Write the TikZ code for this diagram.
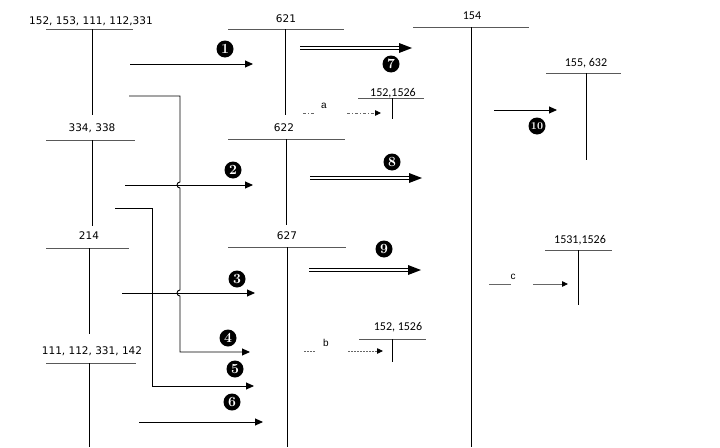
\documentclass[tikz,border=0pt]{standalone}
\usepackage{fontspec}
\usetikzlibrary{arrows.meta}
\newfontfamily\vfont{DejaVu Sans}
\newfontfamily\cfont{Carlito}
\newfontfamily\afont{Liberation Sans}
\tikzset{
  bar/.style={draw=black!65, line width=1pt},
  stem/.style={draw=black, line width=0.9pt},
  conn/.style={draw=black, line width=0.9pt},
  arr/.style={conn, -{Triangle[length=8pt,width=7pt]}},
  smallarr/.style={draw=black!60, line width=0.8pt, -{Triangle[length=6pt,width=5.5pt,color=black]}},
  dbl/.style={draw=black, double=white, double distance=2.4pt, line width=0.8pt, shorten >=10pt},
  vlbl/.style={inner sep=0pt, font=\vfont\fontsize{10.5}{12}\selectfont},
  clbl/.style={inner sep=0pt, font=\cfont\fontsize{12}{14}\selectfont},
  albl/.style={inner sep=0pt, font=\afont\fontsize{10}{11}\selectfont},
  num/.style={circle, fill=black, text=white, inner sep=0pt, minimum size=17pt,
              font=\bfseries\fontsize{14}{14}\selectfont},
  numten/.style={num, font=\bfseries\fontsize{10.5}{11}\selectfont},
}
\begin{document}
\begin{tikzpicture}[x=1pt,y=-1pt]
\useasboundingbox (0,0) rectangle (720,447);

% ---- labels of the T accounts ----
\node[vlbl] (t1) at (91,21) {152, 153, 111, 112,331};
\node[vlbl] (t2) at (92,128) {334, 338};
\node[vlbl] (t3) at (89,236) {214};
\node[vlbl] (t4) at (92,351) {111, 112, 331, 142};
\node[vlbl] (m1) at (286,19) {621};
\node[vlbl] (m2) at (284,128) {622};
\node[vlbl] (m3) at (287,236) {627};
\node[clbl] (r0) at (472,16) {154};
\node[clbl] (r1) at (586,63) {155, 632};
\node[clbl] (s1) at (393,93) {152,1526};
\node[clbl] (s2) at (398,327) {152, 1526};
\node[clbl] (r2) at (580,240) {1531,1526};

% ---- T bars and stems ----
\draw[bar] (46,29) -- (133,29);   \draw[stem] (92,29) -- (92,115);
\draw[bar] (46,140) -- (135,140); \draw[stem] (92,140) -- (92,226);
\draw[bar] (46,248) -- (129,248); \draw[stem] (89,248) -- (89,334);
\draw[bar] (46,363) -- (136,363); \draw[stem] (89,363) -- (89,447);
\draw[bar] (228,29) -- (344,29);  \draw[stem] (285,29) -- (285,115);
\draw[bar] (228,139) -- (345,139);\draw[stem] (286,139) -- (286,225);
\draw[bar] (228,247) -- (346,247);\draw[stem] (287,247) -- (287,447);
\draw[bar] (413,27) -- (529,27);  \draw[stem] (471,27) -- (471,447);
\draw[bar] (546,73) -- (621,73);  \draw[stem] (586,73) -- (586,160);
\draw[bar] (358,98) -- (424,98);  \draw[stem] (392,98) -- (392,119);
\draw[bar] (359,339) -- (426,339);\draw[stem] (392,339) -- (392,362);
\draw[bar] (545,250) -- (612,250);\draw[stem] (578,250) -- (578,305);

% ---- connector end points ----
\coordinate (a1s) at (130,64);  \coordinate (a1e) at (253,64);
\coordinate (a2s) at (125,185); \coordinate (a2e) at (253,185);
\coordinate (a3s) at (122,293); \coordinate (a3e) at (255,293);
\coordinate (a4s) at (129,96);  \coordinate (a4e) at (250,352);
\coordinate (a5s) at (115,208); \coordinate (a5e) at (254,386);
\coordinate (a6s) at (139,422); \coordinate (a6e) at (263,422);
\coordinate (a10s) at (494,110); \coordinate (a10e) at (557,110);

\draw[arr] (a1s) -- (a1e);
\draw[arr] (a2s) -- (a2e);
\draw[arr] (a3s) -- (a3e);
\draw[arr] (a6s) -- (a6e);
\draw[arr] (a10s) -- (a10e);
% arrow 4 with jumps over arrows 2 and 3
\draw[arr] (a4s) -- (180,96) -- (180,182)
   arc[start angle=270, end angle=90, radius=3] -- (180,290)
   arc[start angle=270, end angle=90, radius=3] -- (180,352) -- (a4e);
\draw[arr] (a5s) -| (152,386) -- (a5e);

% ---- double arrows ----
\coordinate (d7s) at (300,48); \coordinate (d7e) at (412,48);
\coordinate (d8s) at (310,178); \coordinate (d8e) at (422,178);
\coordinate (d9s) at (309,270); \coordinate (d9e) at (421,270);
\foreach \s/\e in {d7s/d7e, d8s/d8e, d9s/d9e}{
  \draw[dbl] (\s) -- (\e);
  \fill (\e) -- ++(-13,-5) -- ++(0,10) -- cycle;
}

% ---- small dashed/dotted arrows a, b, c ----
\node[albl] (la) at (324,106) {a};
\node[albl] (lb) at (326,343) {b};
\node[albl] (lc) at (513,277) {c};
\coordinate (aa1) at (303,113); \coordinate (aa2) at (315,113);
\coordinate (aa3) at (347,113); \coordinate (aa4) at (381,113);
\draw[draw=black!60, line width=0.8pt, dash pattern=on 3pt off 2pt on 1pt off 2pt] (aa1) -- (aa2);
\draw[smallarr, dash pattern=on 3pt off 2pt on 1pt off 2pt] (aa3) -- (aa4);
\coordinate (bb1) at (304,351); \coordinate (bb2) at (315,351);
\coordinate (bb3) at (348,351); \coordinate (bb4) at (383,351);
\draw[draw=black!60, line width=0.8pt, dash pattern=on 1.5pt off 1.5pt] (bb1) -- (bb2);
\draw[smallarr, dash pattern=on 1.5pt off 1.5pt] (bb3) -- (bb4);
\coordinate (cc1) at (489,284); \coordinate (cc2) at (511,284);
\coordinate (cc3) at (533,284); \coordinate (cc4) at (568,284);
\draw[draw=black!60, line width=0.8pt] (cc1) -- (cc2);
\draw[smallarr] (cc3) -- (cc4);

% ---- circled numbers ----
\node[num] (n1) at (225,49) {1};
\node[num] (n2) at (233,170) {2};
\node[num] (n3) at (237,279) {3};
\node[num] (n4) at (228,338) {4};
\node[num] (n5) at (235,369) {5};
\node[num] (n6) at (232,402) {6};
\node[num] (n7) at (391,64) {7};
\node[num] (n8) at (392,162) {8};
\node[num] (n9) at (384,249) {9};
\node[numten] (n10) at (537,126) {10};
\end{tikzpicture}
\end{document}
